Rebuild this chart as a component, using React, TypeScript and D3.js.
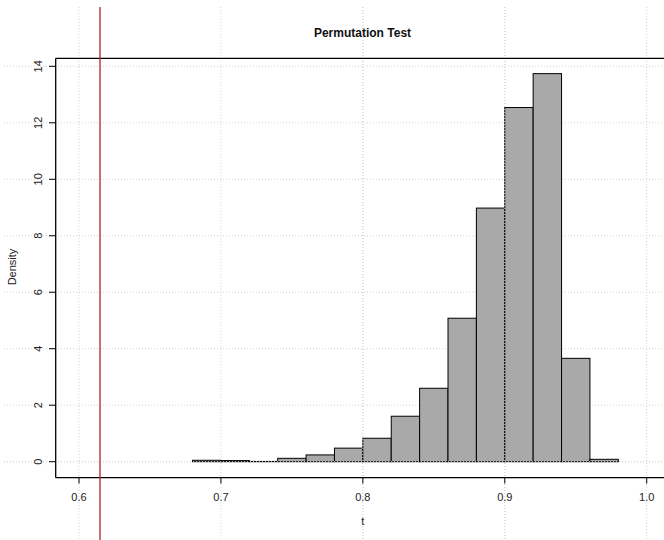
import React from 'react'
import * as d3 from 'd3'

// histogram bins (left edges) and their densities
const binStarts = [0.68, 0.70, 0.72, 0.74, 0.76, 0.78, 0.80, 0.82, 0.84, 0.86, 0.88, 0.90, 0.92, 0.94, 0.96]
const densities = [0.05, 0.04, 0.01, 0.12, 0.24, 0.48, 0.83, 1.61, 2.6, 5.08, 8.98, 12.54, 13.74, 3.66, 0.085]
const binWidth = 0.02
const xTicks = [0.6, 0.7, 0.8, 0.9, 1.0]
const yTicks = [0, 2, 4, 6, 8, 10, 12, 14]
const observed = 0.6148

const W = 664
const H = 540
const font = '"Liberation Sans", Arial, Helvetica, sans-serif'

export default function App() {
  const x = d3.scaleLinear().domain([0.6, 1.0]).range([79, 646.7])
  const y = d3.scaleLinear().domain([0, 14]).range([461.7, 66.3])

  const frameLeft = 55.7
  const frameTop = 58.3
  const frameBottom = 477.7
  const gridTop = 7
  const gridLeft = 4

  const vGrid = (t: number, k: string) => (
    <line key={k + t} x1={x(t)} x2={x(t)} y1={gridTop} y2={H}
      stroke="#d3d3d3" strokeWidth={1} strokeDasharray="1,2" />
  )
  const hGrid = (t: number, k: string) => (
    <line key={k + t} x1={gridLeft} x2={W} y1={y(t)} y2={y(t)}
      stroke="#d3d3d3" strokeWidth={1} strokeDasharray="1,2" />
  )

  return (
    <svg width={W} height={H} style={{ position: 'absolute', left: 0, top: 0, background: '#fff' }}>
      {xTicks.map(t => vGrid(t, 'gx'))}
      {yTicks.map(t => hGrid(t, 'gy'))}

      {/* bars */}
      {binStarts.map((b, i) => (
        <rect
          key={'bar' + i}
          x={x(b)}
          y={y(densities[i])}
          width={x(b + binWidth) - x(b)}
          height={y(0) - y(densities[i])}
          fill="#a9a9a9"
          stroke="#000"
          strokeWidth={1}
        />
      ))}

      {/* grid lines that run along bar edges show over them */}
      {[0.8, 0.9].map(t => vGrid(t, 'ex'))}
      {hGrid(0, 'ey')}

      {/* frame */}
      <line x1={frameLeft} x2={frameLeft} y1={frameTop} y2={frameBottom} stroke="#000" strokeWidth={1.3} />
      <line x1={frameLeft} x2={W} y1={frameTop} y2={frameTop} stroke="#000" strokeWidth={1.3} />
      <line x1={frameLeft} x2={W} y1={frameBottom} y2={frameBottom} stroke="#000" strokeWidth={1.3} />

      {/* y axis */}
      {yTicks.map(t => (
        <g key={'yt' + t}>
          <line x1={49} x2={frameLeft} y1={y(t)} y2={y(t)} stroke="#000" />
          <text
            transform={`translate(38,${y(t)}) rotate(-90)`}
            textAnchor="middle"
            dominantBaseline="central"
            fontFamily={font}
            fontSize={11}
            fill="#222"
          >
            {t}
          </text>
        </g>
      ))}

      {/* x axis */}
      {xTicks.map(t => (
        <g key={'xt' + t}>
          <line x1={x(t)} x2={x(t)} y1={frameBottom} y2={483.5} stroke="#000" />
          <text
            x={x(t)}
            y={497}
            textAnchor="middle"
            dominantBaseline="central"
            fontFamily={font}
            fontSize={11}
            fill="#222"
          >
            {d3.format('.1f')(t)}
          </text>
        </g>
      ))}

      {/* observed statistic */}
      <line x1={x(observed)} x2={x(observed)} y1={gridTop} y2={H} stroke="#b22222" strokeWidth={1.3} />

      {/* labels */}
      <text x={362.5} y={33} textAnchor="middle" dominantBaseline="central"
        fontFamily={font} fontSize={12} fontWeight="bold" fill="#111">
        Permutation Test
      </text>
      <text x={x(0.8)} y={521} textAnchor="middle" dominantBaseline="central"
        fontFamily={font} fontSize={11} fill="#222">
        t
      </text>
      <text transform="translate(12,267) rotate(-90)" textAnchor="middle" dominantBaseline="central"
        fontFamily={font} fontSize={11} fill="#222">
        Density
      </text>
    </svg>
  )
}
